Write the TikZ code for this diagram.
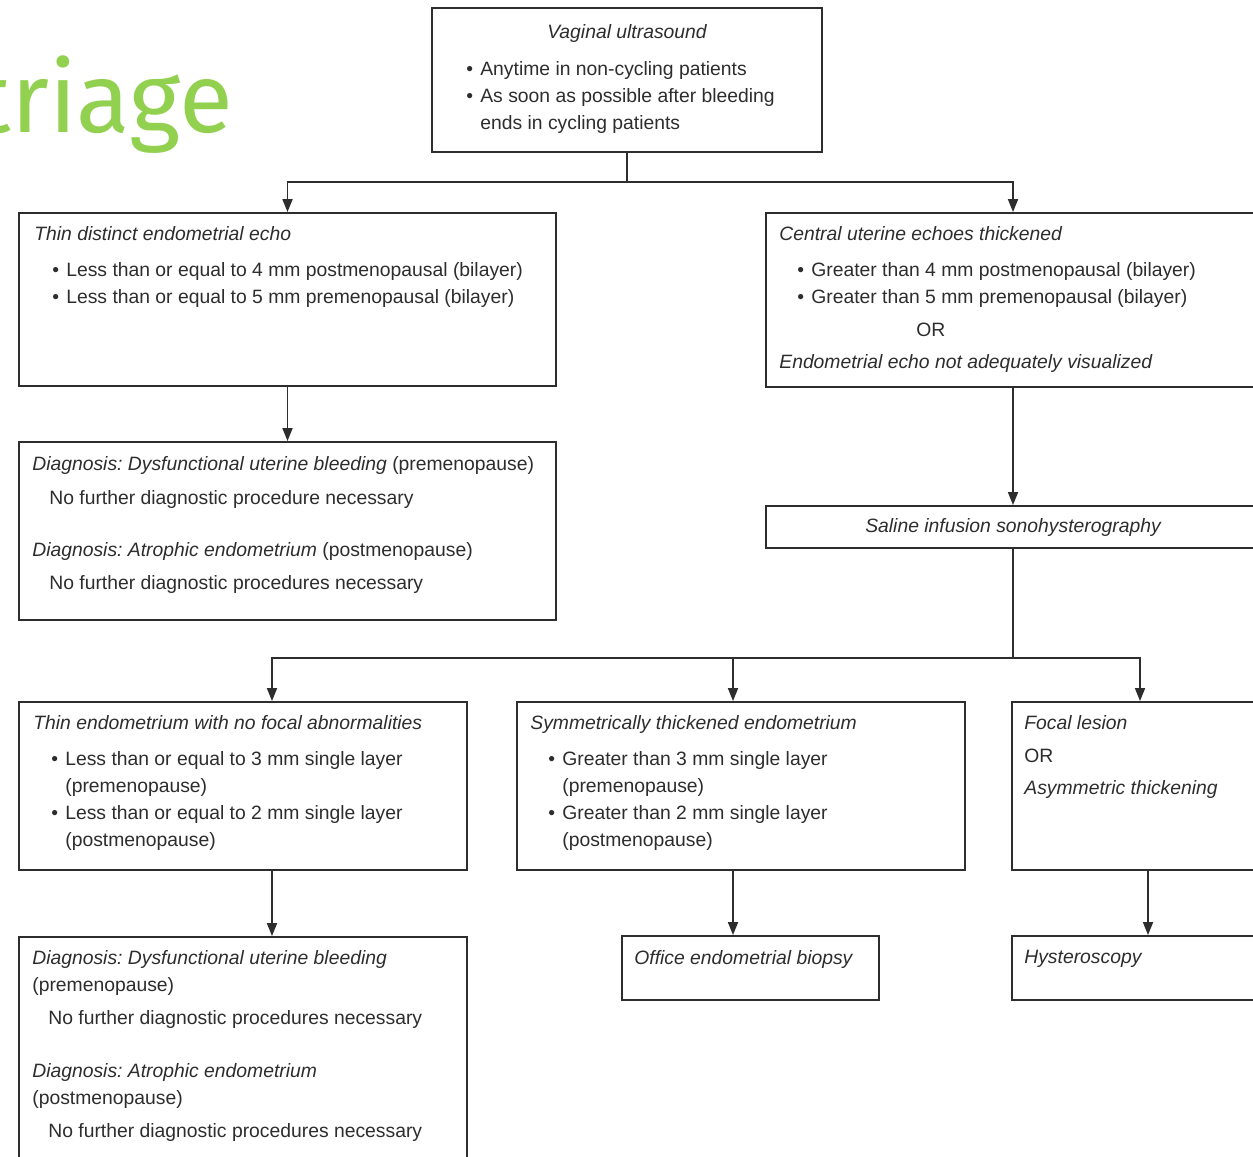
\documentclass[tikz,border=0pt]{standalone}
\usepackage{fontspec}
\setmainfont{Liberation Sans}
\newfontfamily\slidefont{Fira Sans}
\usetikzlibrary{arrows.meta}
\definecolor{ink}{RGB}{45,45,45}
\definecolor{slidegreen}{RGB}{146,208,80}
\newcommand\bul{\hspace*{0.36cm}\makebox[0.28cm][l]{\textbullet}}
\newcommand\hang{\hspace*{0.64cm}}
\frenchspacing

\begin{document}
\begin{tikzpicture}[x=0.02cm, y=-0.02cm,
        box/.style={rectangle, draw=ink, line width=1.1pt, inner sep=0pt},
        txt/.style={anchor=north west, inner sep=0pt, align=left, text=ink, font=\fontsize{11}{15.5}\selectfont},
        arr/.style={-{Triangle[length=0.26cm, width=0.2cm]}, draw=ink, line width=1pt}
        ]
      \useasboundingbox (0,0) rectangle (1253,1156);
      \clip (0,0) rectangle (1253,1156);
      \fill[white] (0,0) rectangle (1253,1156);

      \node[anchor=base east, inner sep=0pt, text=slidegreen, font=\slidefont\fontsize{56}{60}\selectfont] (title) at (233,132) {triage};

      \node[box, minimum width=7.8cm, minimum height=2.88cm] (vag) at (627,80) {};
      \node[box, minimum width=10.74cm, minimum height=3.46cm] (thin) at (287.5,299.5) {};
      \node[box, minimum width=9.88cm, minimum height=3.48cm] (central) at (1013,300) {};
      \node[box, minimum width=10.74cm, minimum height=3.56cm] (diag1) at (287.5,531) {};
      \node[box, minimum width=9.88cm, minimum height=0.84cm, text=ink, font=\fontsize{11}{15.5}\selectfont\itshape] (saline) at (1013,527) {Saline infusion sonohysterography};
      \node[box, minimum width=8.96cm, minimum height=3.36cm] (thinend) at (243,786) {};
      \node[box, minimum width=8.96cm, minimum height=3.36cm] (symm) at (741,786) {};
      \node[box, minimum width=5.28cm, minimum height=3.36cm] (focal) at (1144,786) {};
      \node[box, minimum width=8.96cm, minimum height=4.74cm] (diag2) at (243,1055.5) {};
      \node[box, minimum width=5.14cm, minimum height=1.28cm] (office) at (750.5,968) {};
      \node[box, minimum width=5.28cm, minimum height=1.28cm] (hyst) at (1144,968) {};

      \node[txt, anchor=base, font=\fontsize{11}{15.5}\selectfont\itshape] (vag-head) at (627,38) {Vaginal ultrasound};
      \node[txt] (vag-list) at (448,61) {\bul Anytime in non-cycling patients\\
        \bul As soon as possible after bleeding\\
        \hang ends in cycling patients};
      \node[txt] (thin-txt) at (34,226) {\textit{Thin distinct endometrial echo}\\[0.17cm]
        \bul Less than or equal to 4 mm postmenopausal (bilayer)\\
        \bul Less than or equal to 5 mm premenopausal (bilayer)};
      \node[txt] (central-txt) at (779,226) {\textit{Central uterine echoes thickened}\\[0.17cm]
        \bul Greater than 4 mm postmenopausal (bilayer)\\
        \bul Greater than 5 mm premenopausal (bilayer)\\[0.11cm]
        \hspace*{2.74cm}OR\\[0.11cm]
        \textit{Endometrial echo not adequately visualized}};
      \node[txt] (diag1-txt) at (32,456) {\textit{Diagnosis: Dysfunctional uterine bleeding} (premenopause)\\[0.13cm]
        \hspace*{0.34cm}No further diagnostic procedure necessary\\[0.51cm]
        \textit{Diagnosis: Atrophic endometrium} (postmenopause)\\[0.11cm]
        \hspace*{0.34cm}No further diagnostic procedures necessary};
      \node[txt] (thinend-txt) at (33,715) {\textit{Thin endometrium with no focal abnormalities}\\[0.17cm]
        \bul Less than or equal to 3 mm single layer\\
        \hang (premenopause)\\
        \bul Less than or equal to 2 mm single layer\\
        \hang (postmenopause)};
      \node[txt] (symm-txt) at (530,715) {\textit{Symmetrically thickened endometrium}\\[0.17cm]
        \bul Greater than 3 mm single layer\\
        \hang (premenopause)\\
        \bul Greater than 2 mm single layer\\
        \hang (postmenopause)};
      \node[txt] (focal-txt) at (1024,715) {\textit{Focal lesion}\\[0.11cm]
        OR\\[0.11cm]
        \textit{Asymmetric thickening}};
      \node[txt] (diag2-txt) at (32,950) {\textit{Diagnosis: Dysfunctional uterine bleeding}\\
        (premenopause)\\[0.11cm]
        \hspace*{0.32cm}No further diagnostic procedures necessary\\[0.51cm]
        \textit{Diagnosis: Atrophic endometrium}\\
        (postmenopause)\\[0.11cm]
        \hspace*{0.32cm}No further diagnostic procedures necessary};
      \node[txt, font=\fontsize{11}{15.5}\selectfont\itshape] (office-txt) at (634,950) {Office endometrial biopsy};
      \node[txt, font=\fontsize{11}{15.5}\selectfont\itshape] (hyst-txt) at (1024,950) {Hysteroscopy};

      \draw[arr] (vag.south) -- ++(0,29) -| (thin.north);
      \draw[arr] (vag.south) -- ++(0,29) -| (central.north);
      \draw[arr] (thin.south) -- (diag1.north);
      \draw[arr] (central.south) -- (saline.north);

      \coordinate (hub) at (1013,658);
      \draw[line width=1pt, draw=ink] (saline.south) -- (hub);
      \draw[arr] (hub) -| ([xshift=0.58cm]thinend.north);
      \draw[arr] (hub) -| ([xshift=-0.16cm]symm.north);
      \draw[arr] (hub) -| ([xshift=-0.08cm]focal.north);

      \draw[arr] ([xshift=0.58cm]thinend.south) -- ([xshift=0.58cm]diag2.north);
      \draw[arr] ([xshift=-0.16cm]symm.south) -- ([xshift=-0.16cm]symm.south |- office.north);
      \draw[arr] ([xshift=0.08cm]focal.south) -- ([xshift=0.08cm]hyst.north);

    \end{tikzpicture}
\end{document}
